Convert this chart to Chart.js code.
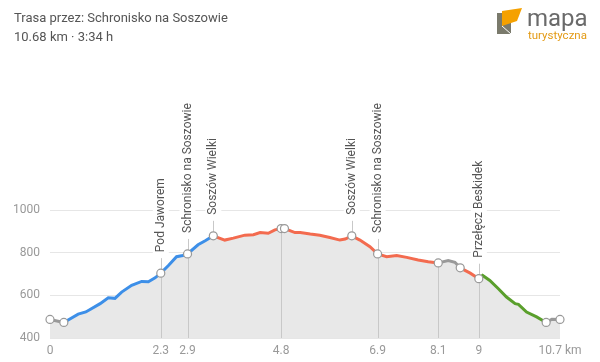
<!DOCTYPE html>
<html>
<head>
<meta charset="utf-8">
<script src="https://cdn.jsdelivr.net/npm/chart.js@4"></script>
<style>
    body { margin: 0; background: #fff; font-family: Roboto, sans-serif; }
    .wrap { position: relative; width: 600px; height: 362px; }
    .title { position: absolute; left: 14px; top: 8px; font-size: 13px; line-height: 19px; color: #555; }
    .logo { position: absolute; left: 490px; top: 4px; }
    canvas { position: absolute; left: 0; top: 0; }
</style>
</head>
<body>
<div class="wrap">
    <canvas id="profileChart" width="600" height="362"></canvas>
    <div class="title">Trasa przez: Schronisko na Soszowie<br>10.68 km · 3:34 h</div>
    <svg class="logo" width="105" height="40" viewBox="0 0 105 40">
        <polygon points="7,9 21,9 21,30 7,30" fill="#7a7a6c"/>
        <polygon points="12,7 32,4 27,17 12,22" fill="#f5a100"/>
        <line x1="12" y1="22" x2="21" y2="30" stroke="#fff" stroke-width="1"/>
        <text x="37" y="22" font-family="Roboto, sans-serif" font-size="24" fill="#6a6a6a">mapa</text>
        <text x="38" y="35" font-family="Roboto, sans-serif" font-size="11.5" fill="#e39a14">turystyczna</text>
    </svg>
</div>
<script>
// profil wysokosci: km / m n.p.m.
const distKm = [0, 0.29, 0.59, 0.75, 1.05, 1.22, 1.36, 1.50, 1.71, 1.92,
    2.06, 2.20, 2.32, 2.48, 2.65, 2.78, 2.88, 3.10, 3.25, 3.42,
    3.66, 3.84, 4.08, 4.26, 4.40, 4.57, 4.71, 4.84, 4.91, 5.13,
    5.24, 5.45, 5.65, 5.86, 6.07, 6.18, 6.32, 6.49, 6.70, 6.86,
    7.05, 7.26, 7.47, 7.71, 7.92, 8.13, 8.34, 8.48, 8.59, 8.80,
    8.98, 9.06, 9.21, 9.39, 9.56, 9.74, 9.81, 9.98, 10.19, 10.39,
    10.51, 10.68];
const elevation = [487, 473, 512, 522, 561, 589, 586, 615, 647, 665,
    664, 682, 704, 740, 781, 787, 794, 837, 856, 879,
    859, 868, 882, 884, 894, 891, 907, 913, 913, 894,
    894, 887, 882, 871, 859, 864, 879, 859, 828, 794,
    781, 787, 778, 766, 757, 752, 763, 755, 729, 704,
    678, 693, 670, 631, 592, 561, 558, 522, 499, 473,
    488, 487];

// odcinki szlakow (poczatek w km + kolor szlaku)
const trailStartKm = [0, 0.29, 3.42, 8.13, 8.59, 8.98, 10.39];
const trailKind = ['none', 'blue', 'red', 'none', 'red', 'green', 'none'];

const waypointKm = [0, 0.29, 2.32, 2.88, 3.42, 4.84, 4.91, 6.32, 6.86, 8.13, 8.59, 8.98, 10.39, 10.68];
const namedKm = [2.32, 2.88, 3.42, 6.32, 6.86, 8.98];
const namedLabels = ['Pod Jaworem', 'Schronisko na Soszowie', 'Soszów Wielki',
    'Soszów Wielki', 'Schronisko na Soszowie', 'Przełęcz Beskidek'];

const xTicks = [0, 2.32, 2.88, 4.84, 6.86, 8.13, 8.98, 10.68];
const yTicks = [400, 600, 800, 1000];

const trailColors = {
    none: '#999999',
    blue: '#3d8fe8',
    red: '#f36b4f',
    green: '#5a9f2c'
};

function colorAt(km) {
    let kind = trailKind[0];
    for (let i = 0; i < trailStartKm.length; i++) {
        if (km >= trailStartKm[i] - 0.001) kind = trailKind[i];
    }
    return trailColors[kind];
}

const markerPlugin = {
    id: 'markers',
    beforeDatasetsDraw(chart) {
        const ctx = chart.ctx;
        const area = chart.chartArea;
        const xs = chart.scales.x;
        const ys = chart.scales.y;
        ctx.save();
        ctx.strokeStyle = '#c8c8c8';
        ctx.lineWidth = 1;

        const marks = new Set(xTicks.slice(1, -1).concat(namedKm));
        marks.forEach(km => {
            const i = distKm.indexOf(km);
            if (i < 0) return;
            const x = Math.round(xs.getPixelForValue(km)) + 0.5;
            const y = ys.getPixelForValue(elevation[i]);
            const top = namedKm.includes(km) ? y - 15 : y;
            const bottom = xTicks.includes(km) ? area.bottom : y;
            ctx.beginPath();
            ctx.moveTo(x, top);
            ctx.lineTo(x, bottom);
            ctx.stroke();
        });

        ctx.font = '12px Roboto, sans-serif';
        ctx.textBaseline = 'middle';
        ctx.textAlign = 'left';
        namedKm.forEach((km, n) => {
            const i = distKm.indexOf(km);
            const x = xs.getPixelForValue(km);
            const y = ys.getPixelForValue(elevation[i]) - 21;
            const w = ctx.measureText(namedLabels[n]).width;
            ctx.fillStyle = '#ffffff';
            ctx.fillRect(x - 8, y - w - 4, 16, w + 6);
            ctx.save();
            ctx.translate(x, y);
            ctx.rotate(-Math.PI / 2);
            ctx.fillStyle = '#555';
            ctx.fillText(namedLabels[n], 0, 0);
            ctx.restore();
        });
        ctx.restore();
    }
};

const profilePoints = distKm.map((km, i) => ({ x: km, y: elevation[i] }));

new Chart(document.getElementById('profileChart'), {
    type: 'line',
    data: {
        datasets: [{
            // linia szlaku
            data: profilePoints,
            borderWidth: 3,
            borderColor: '#999',
            fill: false,
            tension: 0,
            segment: {
                borderColor: c => colorAt(c.p0.parsed.x)
            },
            pointRadius: c => waypointKm.includes(distKm[c.dataIndex]) ? 4 : 0,
            pointBackgroundColor: '#fff',
            pointBorderColor: '#999',
            pointBorderWidth: 1.2,
            clip: false
        }, {
            // wypelnienie pod profilem
            data: profilePoints,
            borderWidth: 0,
            pointRadius: 0,
            backgroundColor: '#e8e8e8',
            fill: 'start',
            tension: 0
        }]
    },
    options: {
        responsive: false,
        animation: false,
        layout: { padding: { left: 0, right: 40, top: 82, bottom: 0 } },
        plugins: {
            legend: { display: false },
            tooltip: { enabled: false },
            filler: { drawTime: 'beforeDatasetsDraw' }
        },
        scales: {
            x: {
                type: 'linear',
                min: 0,
                max: 10.68,
                afterBuildTicks: axis => { axis.ticks = xTicks.map(v => ({ value: v })); },
                afterFit: axis => { axis.height = 24; },
                grid: { display: false, drawTicks: false },
                border: { display: false },
                ticks: {
                    padding: 6,
                    color: '#999',
                    font: { size: 12, family: 'Roboto, sans-serif' },
                    maxRotation: 0,
                    autoSkip: false,
                    callback: v => {
                        const s = String(Number(v.toFixed(1)));
                        return v === xTicks[xTicks.length - 1] ? s + ' km' : s;
                    }
                }
            },
            y: {
                min: 400,
                max: 1600,
                afterBuildTicks: axis => { axis.ticks = yTicks.map(v => ({ value: v })); },
                afterFit: axis => { axis.width = 50; },
                grid: { color: '#e6e6e6', drawTicks: false },
                border: { display: false },
                ticks: {
                    padding: 10,
                    color: '#999',
                    font: { size: 12, family: 'Roboto, sans-serif' },
                    callback: v => String(v)
                }
            }
        }
    },
    plugins: [markerPlugin]
});
</script>
</body>
</html>
